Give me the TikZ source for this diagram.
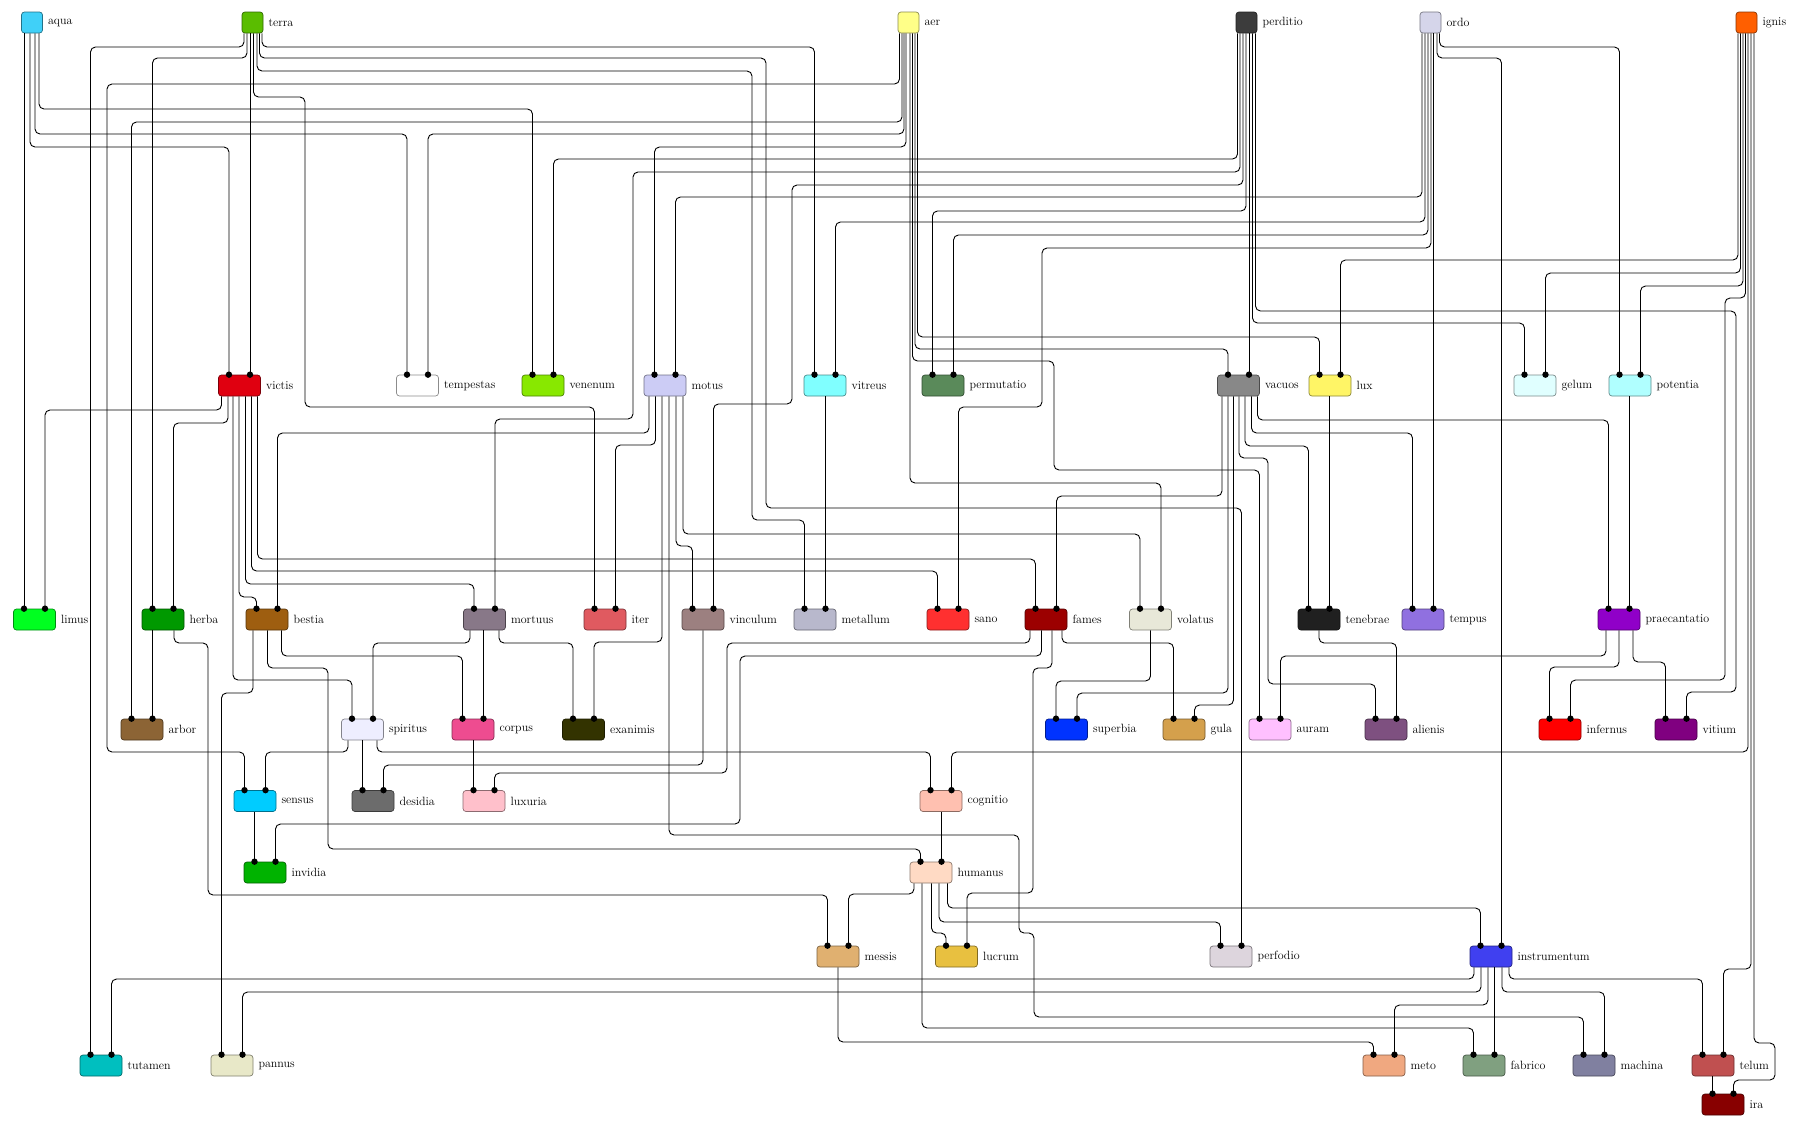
\documentclass[tikz,border=0pt]{standalone}
\begin{document}
\definecolor{cAqua}{HTML}{40D0F8}
\definecolor{cTerra}{HTML}{5ABD00}
\definecolor{cAer}{HTML}{FFFF88}
\definecolor{cPerditio}{HTML}{3C3C3C}
\definecolor{cOrdo}{HTML}{D5D5EA}
\definecolor{cIgnis}{HTML}{FF5F00}
\definecolor{cVictis}{HTML}{E00010}
\definecolor{cTempestas}{HTML}{FFFFFF}
\definecolor{cVenenum}{HTML}{88E800}
\definecolor{cMotus}{HTML}{CCCCF5}
\definecolor{cVitreus}{HTML}{80FFFF}
\definecolor{cPermutatio}{HTML}{5A8A5A}
\definecolor{cVacuos}{HTML}{888888}
\definecolor{cLux}{HTML}{FFF566}
\definecolor{cGelum}{HTML}{E0FFFF}
\definecolor{cPotentia}{HTML}{B0FFFF}
\definecolor{cLimus}{HTML}{00FF20}
\definecolor{cHerba}{HTML}{009900}
\definecolor{cBestia}{HTML}{9E5E10}
\definecolor{cMortuus}{HTML}{887888}
\definecolor{cIter}{HTML}{E05A60}
\definecolor{cVinculum}{HTML}{9C8080}
\definecolor{cMetallum}{HTML}{B8B8CC}
\definecolor{cSano}{HTML}{FF3030}
\definecolor{cFames}{HTML}{9C0000}
\definecolor{cVolatus}{HTML}{E8E8D8}
\definecolor{cTenebrae}{HTML}{202020}
\definecolor{cTempus}{HTML}{9070E0}
\definecolor{cPraecantatio}{HTML}{9000C8}
\definecolor{cArbor}{HTML}{8C6435}
\definecolor{cSpiritus}{HTML}{EEEEFF}
\definecolor{cCorpus}{HTML}{EE4C90}
\definecolor{cExanimis}{HTML}{333300}
\definecolor{cSuperbia}{HTML}{0033FF}
\definecolor{cGula}{HTML}{D4A04C}
\definecolor{cAuram}{HTML}{FFC0FF}
\definecolor{cAlienis}{HTML}{7E5080}
\definecolor{cInfernus}{HTML}{FF0000}
\definecolor{cVitium}{HTML}{800080}
\definecolor{cSensus}{HTML}{00CCFF}
\definecolor{cDesidia}{HTML}{6C6C6C}
\definecolor{cLuxuria}{HTML}{FFC0CB}
\definecolor{cCognitio}{HTML}{FFC0B0}
\definecolor{cInvidia}{HTML}{00B300}
\definecolor{cHumanus}{HTML}{FFDAC4}
\definecolor{cMessis}{HTML}{E0B070}
\definecolor{cLucrum}{HTML}{E8C040}
\definecolor{cPerfodio}{HTML}{DDD5DD}
\definecolor{cInstrumentum}{HTML}{4040F0}
\definecolor{cTutamen}{HTML}{00BFBF}
\definecolor{cPannus}{HTML}{E8E8C8}
\definecolor{cMeto}{HTML}{F0A880}
\definecolor{cFabrico}{HTML}{80A080}
\definecolor{cMachina}{HTML}{8080A0}
\definecolor{cTelum}{HTML}{C05050}
\definecolor{cIra}{HTML}{880000}
\tikzset{
  wire/.style={line width=0.9pt, rounded corners=5pt, black},
  box/.style={draw=#1!55!black, fill=#1, rounded corners=3pt, minimum width=42pt, minimum height=21pt, inner sep=0pt, line width=0.7pt},
  src/.style={box=#1, minimum width=21pt},
  lab/.style={anchor=west, inner sep=0pt, xshift=5pt, font=\fontsize{12}{14}\selectfont},
}
\newcommand\nd[5]{\node[#1=#2] (#3) at (#4) {}; \node[lab] (#3-t) at (#3.east) {#5};}
\newcommand\wA[5]{%
  \path ([xshift=#4pt]#3.north) coordinate (dd);
  \draw[wire] (#1.south -| #2,0) -- (#2,#5) -- (dd |- 0,#5) -- (dd);
  \fill (dd) circle (3.2pt);}
\newcommand\wS[3]{%
  \path ([xshift=#3pt]#2.north) coordinate (dd);
  \draw[wire] (#1.south -| dd) -- (dd);
  \fill (dd) circle (3.2pt);}
\newcommand\wB[7]{%
  \path ([xshift=#4pt]#3.north) coordinate (dd);
  \draw[wire] (#1.south -| #2,0) -- (#2,#5) -- (#6,#5) -- (#6,#7) -- (dd |- 0,#7) -- (dd);
  \fill (dd) circle (3.2pt);}
\begin{tikzpicture}[x=1pt,y=-1pt]
\useasboundingbox (0,0) rectangle (1800,1128);
% row 1
\nd{src}{cAqua}{aqua}{32,22.5}{aqua}
\nd{src}{cTerra}{terra}{252.5,22.5}{terra}
\nd{src}{cAer}{aer}{908.5,22.5}{aer}
\nd{src}{cPerditio}{perditio}{1246.5,22.5}{perditio}
\nd{src}{cOrdo}{ordo}{1430.5,22.5}{ordo}
\nd{src}{cIgnis}{ignis}{1746.5,22.5}{ignis}
% row 2
\nd{box}{cVictis}{victis}{239.5,385.5}{victis}
\nd{box}{cTempestas}{tempestas}{417.5,385.5}{tempestas}
\nd{box}{cVenenum}{venenum}{543,385.5}{venenum}
\nd{box}{cMotus}{motus}{665,385.5}{motus}
\nd{box}{cVitreus}{vitreus}{825,385.5}{vitreus}
\nd{box}{cPermutatio}{permutatio}{943,385.5}{permutatio}
\nd{box}{cVacuos}{vacuos}{1238.5,385.5}{vacuos}
\nd{box}{cLux}{lux}{1330,385.5}{lux}
\nd{box}{cGelum}{gelum}{1535,385.5}{gelum}
\nd{box}{cPotentia}{potentia}{1630,385.5}{potentia}
% row 3
\nd{box}{cLimus}{limus}{34.5,619.5}{limus}
\nd{box}{cHerba}{herba}{163,619.5}{herba}
\nd{box}{cBestia}{bestia}{267,619.5}{bestia}
\nd{box}{cMortuus}{mortuus}{484.5,619.5}{mortuus}
\nd{box}{cIter}{iter}{605,619.5}{iter}
\nd{box}{cVinculum}{vinculum}{703,619.5}{vinculum}
\nd{box}{cMetallum}{metallum}{815,619.5}{metallum}
\nd{box}{cSano}{sano}{948,619.5}{sano}
\nd{box}{cFames}{fames}{1046,619.5}{fames}
\nd{box}{cVolatus}{volatus}{1150.5,619.5}{volatus}
\nd{box}{cTenebrae}{tenebrae}{1319,619.5}{tenebrae}
\nd{box}{cTempus}{tempus}{1423,619.5}{tempus}
\nd{box}{cPraecantatio}{praecantatio}{1619,619.5}{praecantatio}
% row 4
\nd{box}{cArbor}{arbor}{142,729.5}{arbor}
\nd{box}{cSpiritus}{spiritus}{362.5,729.5}{spiritus}
\nd{box}{cCorpus}{corpus}{473,729.5}{corpus}
\nd{box}{cExanimis}{exanimis}{583.5,729.5}{exanimis}
\nd{box}{cSuperbia}{superbia}{1066.5,729.5}{superbia}
\nd{box}{cGula}{gula}{1184,729.5}{gula}
\nd{box}{cAuram}{auram}{1270,729.5}{auram}
\nd{box}{cAlienis}{alienis}{1386,729.5}{alienis}
\nd{box}{cInfernus}{infernus}{1560,729.5}{infernus}
\nd{box}{cVitium}{vitium}{1676,729.5}{vitium}
% row 5
\nd{box}{cSensus}{sensus}{255,801}{sensus}
\nd{box}{cDesidia}{desidia}{373,801}{desidia}
\nd{box}{cLuxuria}{luxuria}{484,801}{luxuria}
\nd{box}{cCognitio}{cognitio}{941,801}{cognitio}
% row 6
\nd{box}{cInvidia}{invidia}{265,872.5}{invidia}
\nd{box}{cHumanus}{humanus}{931,872.5}{humanus}
% row 7
\nd{box}{cMessis}{messis}{838,956.5}{messis}
\nd{box}{cLucrum}{lucrum}{956.5,956.5}{lucrum}
\nd{box}{cPerfodio}{perfodio}{1231,956.5}{perfodio}
\nd{box}{cInstrumentum}{instrumentum}{1491,956.5}{instrumentum}
% row 8
\nd{box}{cTutamen}{tutamen}{101,1065.5}{tutamen}
\nd{box}{cPannus}{pannus}{232,1065.5}{pannus}
\nd{box}{cMeto}{meto}{1384,1065.5}{meto}
\nd{box}{cFabrico}{fabrico}{1484,1065.5}{fabrico}
\nd{box}{cMachina}{machina}{1594,1065.5}{machina}
\nd{box}{cTelum}{telum}{1713,1065.5}{telum}
% row 9
\nd{box}{cIra}{ira}{1723,1104.5}{ira}
% ---- connectors ----
% aqua
\wS{aqua}{limus}{-10.5}
\wA{aqua}{30}{victis}{-10.5}{147}
\wA{aqua}{35}{tempestas}{-10.5}{134}
\wA{aqua}{39}{venenum}{-10.5}{109}
% terra
\wA{terra}{244}{tutamen}{-10.5}{47}
\wA{terra}{247}{herba}{-10.5}{58}
\wS{terra}{victis}{10.5}
\wB{terra}{253.5}{iter}{-10.5}{97}{305}{407}
\wB{terra}{257}{metallum}{-10.5}{71}{752}{520}
\wB{terra}{259.5}{perfodio}{10.5}{58}{766}{508}
\wA{terra}{262}{vitreus}{-10.5}{47}
% aer
\wB{aer}{899.5}{sensus}{-10.5}{84}{107}{752}
\wA{aer}{902}{arbor}{-10.5}{122}
\wA{aer}{904}{tempestas}{10.5}{134}
\wA{aer}{906}{motus}{-10.5}{147}
\wA{aer}{910}{volatus}{10.5}{483}
\wB{aer}{912.5}{auram}{-10.5}{361}{1054}{470}
\wA{aer}{915}{vacuos}{-10.5}{349}
\wA{aer}{917.5}{lux}{-10.5}{337}
% perditio
\wA{perditio}{1237.5}{venenum}{10.5}{159}
\wB{perditio}{1240}{mortuus}{10.5}{172}{633}{419}
\wB{perditio}{1243}{vinculum}{10.5}{185}{792}{404}
\wA{perditio}{1246}{permutatio}{-10.5}{211}
\wS{perditio}{vacuos}{10.5}
\wA{perditio}{1252.5}{gelum}{-10.5}{323}
\wB{perditio}{1255.5}{vitium}{10.5}{311}{1736}{692}
% ordo
\wA{ordo}{1422}{motus}{10.5}{197}
\wA{ordo}{1425}{vitreus}{10.5}{222}
\wA{ordo}{1428}{permutatio}{10.5}{235}
\wB{ordo}{1431}{sano}{10.5}{248}{1042}{407}
\wS{ordo}{tempus}{10.5}
\wA{ordo}{1437}{instrumentum}{10.5}{58}
\wA{ordo}{1439.5}{potentia}{-10.5}{47}
% ignis
\wA{ignis}{1738}{lux}{10.5}{260}
\wA{ignis}{1740.5}{gelum}{10.5}{273}
\wA{ignis}{1743}{potentia}{10.5}{286}
\wB{ignis}{1745.5}{infernus}{10.5}{298}{1725}{680}
\wA{ignis}{1748}{cognitio}{10.5}{752}
\wA{ignis}{1751}{telum}{10.5}{969}
\path ([xshift=10.5pt]ira.north) coordinate (dd);
\draw[wire] (ignis.south -| 1754,0) -- (1754,1043) -- (1775,1043) -- (1775,1080) -- (dd |- 0,1080) -- (dd);
\fill (dd) circle (3.2pt);
% victis
\wA{victis}{221.5}{limus}{10.5}{410}
\wA{victis}{228}{herba}{10.5}{423}
\wA{victis}{233}{spiritus}{-10.5}{680}
\wA{victis}{239}{bestia}{-10.5}{597}
\wA{victis}{245.5}{mortuus}{-10.5}{584}
\wA{victis}{251.5}{sano}{-10.5}{571}
\wA{victis}{257.5}{fames}{-10.5}{559}
% motus
\wA{motus}{649}{bestia}{10.5}{433}
\wA{motus}{655.5}{iter}{10.5}{445}
\wA{motus}{662}{exanimis}{10.5}{642}
\path ([xshift=-10.5pt]machina.north) coordinate (dd);
\draw[wire] (motus.south -| 669,0) -- (669,835) -- (1019,835) -- (1019,933) -- (1034,933) -- (1034,1017) -- (dd |- 0,1017) -- (dd);
\fill (dd) circle (3.2pt);
\wA{motus}{676}{vinculum}{-10.5}{546}
\wA{motus}{683}{volatus}{-10.5}{534}
% vitreus
\wS{vitreus}{metallum}{10.5}
% vacuos
\wA{vacuos}{1222}{fames}{10.5}{496}
\wA{vacuos}{1228}{superbia}{10.5}{693}
\wA{vacuos}{1233.5}{gula}{10.5}{705}
\wB{vacuos}{1239}{alienis}{-10.5}{458}{1268}{684}
\wA{vacuos}{1245}{tenebrae}{-10.5}{446}
\wA{vacuos}{1251.5}{tempus}{-10.5}{433}
\wA{vacuos}{1257.5}{praecantatio}{-10.5}{420}
% lux, potentia
\wS{lux}{tenebrae}{10.5}
\wS{potentia}{praecantatio}{10.5}
% herba
\wS{herba}{arbor}{10.5}
\wB{herba}{174}{messis}{-10.5}{643}{208}{895}
% bestia
\wA{bestia}{253}{pannus}{-10.5}{693}
\wB{bestia}{267.5}{humanus}{-10.5}{668}{328}{849}
\wA{bestia}{281.5}{corpus}{-10.5}{656}
% mortuus
\wA{mortuus}{470}{spiritus}{10.5}{643}
\wS{mortuus}{corpus}{10.5}
\wA{mortuus}{499}{exanimis}{-10.5}{643}
% vinculum
\wA{vinculum}{703}{desidia}{10.5}{765}
% fames
\wB{fames}{1030}{luxuria}{10.5}{643}{727}{773}
\wB{fames}{1041.5}{invidia}{10.5}{656}{740}{824}
\wB{fames}{1052}{lucrum}{10.5}{668}{1033}{893}
\wA{fames}{1062}{gula}{-10.5}{643}
% volatus, tenebrae
\wA{volatus}{1150.5}{superbia}{-10.5}{681}
\wA{tenebrae}{1319}{alienis}{10.5}{643}
% praecantatio
\wA{praecantatio}{1606}{auram}{10.5}{656}
\wA{praecantatio}{1619}{infernus}{-10.5}{667}
\wA{praecantatio}{1633}{vitium}{-10.5}{662}
% spiritus
\wA{spiritus}{348}{sensus}{10.5}{752}
\wS{spiritus}{desidia}{-10.5}
\wA{spiritus}{377}{cognitio}{-10.5}{752}
% corpus, sensus, cognitio
\wS{corpus}{luxuria}{-10.5}
\wS{sensus}{invidia}{-10.5}
\wS{cognitio}{humanus}{10.5}
% humanus
\wA{humanus}{914}{messis}{10.5}{894}
\wA{humanus}{922}{fabrico}{-10.5}{1028}
\wA{humanus}{931.5}{lucrum}{-10.5}{933}
\wA{humanus}{939}{perfodio}{-10.5}{922}
\wA{humanus}{947.5}{instrumentum}{-10.5}{908}
% messis
\wA{messis}{838}{meto}{-10.5}{1042}
% instrumentum
\wA{instrumentum}{1474}{tutamen}{10.5}{979}
\wA{instrumentum}{1481}{pannus}{10.5}{992}
\wA{instrumentum}{1488}{meto}{10.5}{1005}
\wS{instrumentum}{fabrico}{10.5}
\wA{instrumentum}{1502}{machina}{10.5}{992}
\wA{instrumentum}{1509}{telum}{-10.5}{979}
% telum
\wS{telum}{ira}{-10.5}
\end{tikzpicture}
\end{document}
